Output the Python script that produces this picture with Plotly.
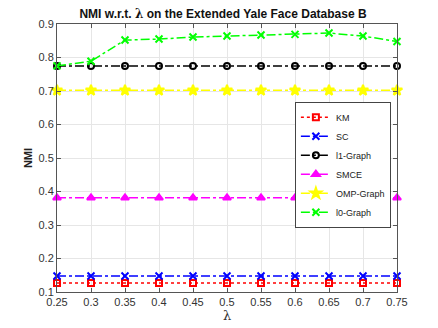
import plotly.graph_objects as go

lam = [0.25, 0.3, 0.35, 0.4, 0.45, 0.5, 0.55, 0.6, 0.65, 0.7, 0.75]
km = [0.127] * 11
sc = [0.148] * 11
l1_graph = [0.775] * 11
smce = [0.381] * 11
omp_graph = [0.702] * 11
l0_graph = [0.775, 0.789, 0.852, 0.855, 0.861, 0.864, 0.867, 0.869, 0.873, 0.864, 0.848]

series = [
    ("KM", km, "red", "dot", "square-open", 6),
    ("SC", sc, "blue", "dashdot", "x-thin-open", 7),
    ("l1-Graph", l1_graph, "black", "dashdot", "circle-open", 6),
    ("SMCE", smce, "magenta", "dashdot", "triangle-up", 7),
    ("OMP-Graph", omp_graph, "yellow", "dashdot", "star", 8),
    ("l0-Graph", l0_graph, "#00ff00", "dashdot", "x-thin-open", 7),
]

fig = go.Figure()
for name, vals, col, dash, sym, size in series:
    fig.add_trace(go.Scatter(
        x=lam, y=vals, name=name, mode="lines+markers",
        line=dict(color=col, width=1.5, dash=dash),
        marker=dict(symbol=sym, size=size, color=col,
                    line=dict(color=col, width=2)),
        cliponaxis=False))

axis_style = dict(showline=True, linecolor="#555", linewidth=1, mirror="ticks",
                  ticks="inside", ticklen=4, tickcolor="#555",
                  showgrid=True, gridcolor="#e6e6e6", zeroline=False,
                  automargin=False,
                  tickfont=dict(size=11, color="#333"))

fig.update_xaxes(range=[0.25, 0.75], tickvals=lam,
                 ticktext=[str(v) for v in lam],
                 title=dict(text="λ", font=dict(family="DejaVu Serif", size=13, color="#333"),
                            standoff=2),
                 **axis_style)
fig.update_yaxes(range=[0.1, 0.9], dtick=0.1,
                 title=dict(text="<b>NMI</b>", font=dict(size=11, color="#222"), standoff=3),
                 **axis_style)

# the page body adds an 8 px offset, so the figure is 8 px smaller and margins shifted
fig.update_layout(
    width=430, height=320,
    margin=dict(l=49, r=41, t=16, b=36),
    paper_bgcolor="white", plot_bgcolor="white",
    font=dict(family="Liberation Sans, Arial, sans-serif", color="#222"),
    title=dict(text="<b>NMI w.r.t. <span style='font-family:DejaVu Serif'>λ</span> on the Extended Yale Face Database B</b>",
               x=0.5, xanchor="center", y=0.995, yanchor="top",
               font=dict(size=12, color="#111")),
    legend=dict(x=0.982, y=0.71, xanchor="right", yanchor="top",
                bgcolor="white", bordercolor="#444", borderwidth=1,
                font=dict(size=9, color="#222"), itemwidth=30,
                tracegroupgap=0),
)

fig.write_html("out.html")
